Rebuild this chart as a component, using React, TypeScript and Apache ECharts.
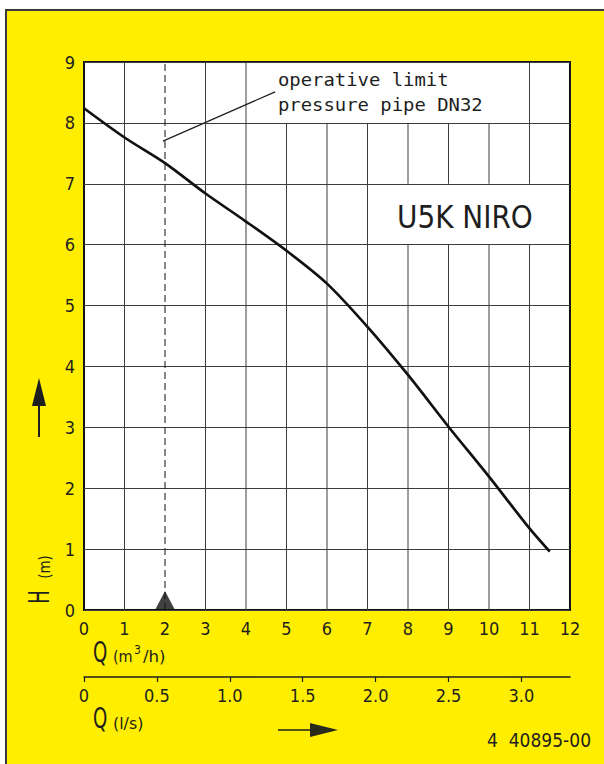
import React, { useEffect, useRef } from "react";
import * as echarts from "echarts";

// ---- data ----
const qValues = [0, 1, 2, 3, 4, 5, 6, 7, 8, 9, 10, 11, 11.5]; // m3/h
const hValues = [8.24, 7.76, 7.34, 6.84, 6.38, 5.9, 5.36, 4.65, 3.86, 3.01, 2.19, 1.34, 0.96]; // m
const qMin = 0;
const qMax = 12;
const hMin = 0;
const hMax = 9;
const verticalGridQ = [1, 3, 4, 5, 6, 7, 8, 9, 10, 11];
const limitQ = 2; // operative limit DN32
const lsTicks = [0, 0.5, 1, 1.5, 2, 2.5, 3]; // l/s
const M3H_PER_LS = 3.6;
const leaderQ = [1.95, 4.72];
const leaderH = [7.7, 8.51];
// blank label areas in the grid: [q0, q1, h0, h1]
const labelBox = [4, 11, 8, 9];
const modelBox = [7, 12, 6, 7];
const blankBoxes = [labelBox, modelBox];

const FONT = "'DejaVu Sans Condensed', 'Liberation Sans Narrow', sans-serif";
const INK = "#1e1e1e";
const GRID = "#3c3c3c";

// vertical grid segments [q, hFrom, hTo], skipping the label boxes
function cutSegments(q: number): number[][] {
  let segs: number[][] = [[hMin, hMax]];
  for (const box of blankBoxes) {
    const q0 = box[0], q1 = box[1], h0 = box[2], h1 = box[3];
    if (q > q0 && q < q1) {
      const out: number[][] = [];
      for (const s of segs) {
        const a = s[0], b = s[1];
        if (b <= h0 || a >= h1) out.push([a, b]);
        else {
          if (a < h0) out.push([a, h0]);
          if (b > h1) out.push([h1, b]);
        }
      }
      segs = out;
    }
  }
  return segs;
}
const verticalSegments: number[][] = [];
verticalGridQ.forEach((q) => cutSegments(q).forEach((s) => verticalSegments.push([q, s[0], s[1]])));

function text(x: number, y: number, t: string, size: number, extra: any = {}, styleExtra: any = {}) {
  return {
    type: "text",
    x,
    y,
    ...extra,
    style: {
      text: t,
      fontSize: size,
      fontFamily: FONT,
      fill: INK,
      align: "left",
      textAlign: "left",
      verticalAlign: "middle",
      textVerticalAlign: "middle",
      ...styleExtra,
    },
  };
}

export default function App() {
  const ref = useRef<HTMLDivElement>(null);

  useEffect(() => {
    if (!ref.current) return;
    const chart = echarts.init(ref.current, undefined, { renderer: "svg" });

    const option: any = {
      animation: false,
      backgroundColor: "transparent",
      grid: [
        {
          left: 84,
          top: 62,
          right: 34,
          bottom: 154,
          show: true,
          backgroundColor: "#ffffff",
          borderColor: "#151515",
          borderWidth: 2,
        },
        { left: 84, right: 34, top: 676, height: 1, show: false },
      ],
      xAxis: [
        {
          type: "value",
          gridIndex: 0,
          min: qMin,
          max: qMax,
          interval: 1,
          axisLine: { show: false },
          axisTick: { show: false },
          splitLine: { show: false },
          axisLabel: { margin: 9, fontSize: 18, fontFamily: FONT, color: INK },
        },
        {
          type: "value",
          gridIndex: 1,
          position: "bottom",
          min: 0,
          max: qMax / M3H_PER_LS,
          axisLine: { show: true, lineStyle: { color: INK, width: 1.5 } },
          axisTick: { show: true, length: 5, customValues: lsTicks, lineStyle: { color: INK, width: 1.2 } },
          splitLine: { show: false },
          axisLabel: {
            margin: 9,
            fontSize: 18,
            fontFamily: FONT,
            color: INK,
            customValues: lsTicks,
            formatter: (v: number) => (v === 0 ? "0" : v.toFixed(1)),
          },
        },
      ],
      yAxis: [
        {
          type: "value",
          gridIndex: 0,
          min: hMin,
          max: hMax,
          interval: 1,
          axisLine: { show: false },
          axisTick: { show: false },
          splitLine: { show: true, lineStyle: { color: GRID, width: 1 } },
          axisLabel: { margin: 9, fontSize: 18, fontFamily: FONT, color: INK },
        },
        { type: "value", gridIndex: 1, show: false, min: 0, max: 1, splitLine: { show: false } },
      ],
      series: [
        {
          type: "custom",
          name: "vgrid",
          coordinateSystem: "cartesian2d",
          xAxisIndex: 0,
          yAxisIndex: 0,
          z: 2,
          silent: true,
          data: verticalSegments.map((s) => [s[0], s[1]]),
          renderItem: (params: any, api: any) => {
            const s = verticalSegments[params.dataIndex];
            const p0 = api.coord([s[0], s[1]]);
            const p1 = api.coord([s[0], s[2]]);
            return {
              type: "line",
              shape: { x1: p0[0], y1: p0[1], x2: p1[0], y2: p1[1] },
              style: { stroke: GRID, lineWidth: 1 },
            };
          },
        },
        {
          type: "line",
          name: "limit",
          xAxisIndex: 0,
          yAxisIndex: 0,
          z: 3,
          silent: true,
          symbol: "none",
          data: [
            [limitQ, hMin],
            [limitQ, hMax],
          ],
          lineStyle: { color: "#111", width: 1, type: [7, 4] },
        },
        {
          type: "scatter",
          name: "limitMarker",
          xAxisIndex: 0,
          yAxisIndex: 0,
          z: 4,
          silent: true,
          symbol: "triangle",
          symbolSize: [20, 19],
          symbolOffset: [0, -9.5],
          clip: false,
          itemStyle: { color: "#111" },
          data: [[limitQ, hMin]],
        },
        {
          type: "line",
          name: "leader",
          xAxisIndex: 0,
          yAxisIndex: 0,
          z: 3,
          silent: true,
          symbol: "none",
          data: leaderQ.map((q, i) => [q, leaderH[i]]),
          lineStyle: { color: "#222", width: 1.3 },
        },
        {
          type: "line",
          name: "U5K NIRO",
          xAxisIndex: 0,
          yAxisIndex: 0,
          z: 5,
          symbol: "none",
          smooth: 0.3,
          data: qValues.map((q, i) => [q, hValues[i]]),
          lineStyle: { color: "#111", width: 2.7 },
        },
      ],
      graphic: [
        text(278, 80, "operative limit", 18, { scaleX: 1.05, z: 60 }, { fontFamily: "'DejaVu Sans Mono', monospace" }),
        text(278, 105, "pressure pipe DN32", 18, { scaleX: 1.05, z: 60 }, { fontFamily: "'DejaVu Sans Mono', monospace" }),
        text(397, 217, "U5K NIRO", 32, { scaleX: 0.97, z: 60 }),
        // Q (m3/h)
        text(93, 652, "Q", 28, { scaleX: 0.72 }),
        text(113, 656, "(m", 16),
        text(134, 650, "3", 12),
        text(143, 656, "/h)", 16, { scaleX: 1.15 }),
        // Q (l/s)
        text(93, 718, "Q", 28, { scaleX: 0.72 }),
        text(113, 723, "(l/s)", 16, { scaleX: 1.1 }),
        // H (m)
        text(39, 597, "H", 28, { rotation: Math.PI / 2, scaleX: 0.72 }, { align: "center", textAlign: "center" }),
        text(45, 567, "(m)", 15, { rotation: Math.PI / 2 }, { align: "center", textAlign: "center" }),
        // up arrow
        { type: "line", shape: { x1: 39, y1: 400, x2: 39, y2: 437 }, style: { stroke: INK, lineWidth: 2 } },
        { type: "polygon", shape: { points: [[39, 378], [32, 406], [46, 406]] }, style: { fill: INK } },
        // right arrow
        { type: "line", shape: { x1: 278, y1: 730, x2: 312, y2: 730 }, style: { stroke: INK, lineWidth: 1.5 } },
        { type: "polygon", shape: { points: [[338, 730], [310, 723], [310, 737]] }, style: { fill: "#2a2a1a" } },
        // drawing number
        text(487, 740, "4  40895-00", 19),
      ],
    };

    chart.setOption(option);
    return () => chart.dispose();
  }, []);

  return (
    <div style={{ position: "fixed", left: 0, top: 0, width: 604, height: 764, background: "#ffffff", overflow: "hidden" }}>
      <div style={{ position: "absolute", left: 5, top: 9, width: 700, height: 900, background: "#FFEE00", border: "2px solid #3a3a3a" }} />
      <div ref={ref} style={{ position: "absolute", left: 0, top: 0, width: 604, height: 764 }} />
    </div>
  );
}
